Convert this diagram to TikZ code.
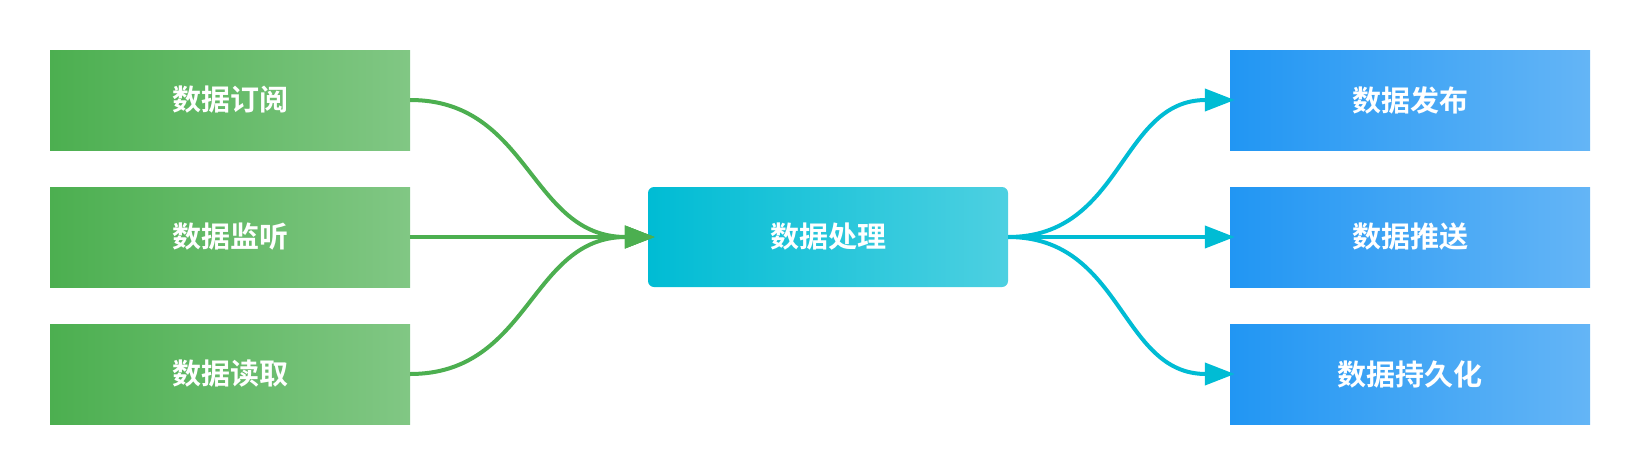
\documentclass[tikz,border=0pt]{standalone}
\usepackage{fontspec}
\newfontfamily\cjk{Noto Sans CJK SC}[BoldFont={Noto Sans CJK SC Bold}]
\usetikzlibrary{arrows.meta}
\definecolor{gA}{HTML}{4CAF50}
\definecolor{gB}{HTML}{81C784}
\definecolor{cA}{HTML}{00BCD4}
\definecolor{cB}{HTML}{4DD0E1}
\definecolor{bA}{HTML}{2196F3}
\definecolor{bB}{HTML}{64B5F6}
\tikzset{
  boxbase/.style={rectangle, minimum width=360pt, minimum height=100pt, inner sep=0pt,
    text=white, font=\cjk\bfseries\fontsize{29pt}{34pt}\selectfont},
  inbox/.style={boxbase, left color=gA, right color=gB},
  midbox/.style={boxbase, left color=cA, right color=cB, rounded corners=6pt},
  outbox/.style={boxbase, left color=bA, right color=bB},
  garrow/.style={draw=gA, line width=4pt, -{Triangle[length=30pt,width=22pt]}},
  carrow/.style={draw=cA, line width=4pt, -{Triangle[length=30pt,width=22pt]}},
}
\begin{document}
\begin{tikzpicture}[x=1pt,y=-1pt]
\useasboundingbox (0,0) rectangle (1639,474);
\node[inbox] (l1) at (230,100) {数据订阅};
\node[inbox] (l2) at (230,237) {数据监听};
\node[inbox] (l3) at (230,374) {数据读取};
\node[midbox] (c) at (828,237) {数据处理};
\node[outbox] (r1) at (1410,100) {数据发布};
\node[outbox] (r2) at (1410,237) {数据推送};
\node[outbox] (r3) at (1410,374) {数据持久化};
\coordinate (cin) at ([xshift=7pt]c.west);
\coordinate (r1in) at ([xshift=5pt]r1.west);
\coordinate (r2in) at ([xshift=5pt]r2.west);
\coordinate (r3in) at ([xshift=5pt]r3.west);
\draw[garrow] (l1.east) .. controls +(120,0) and +(-125,0) .. (cin);
\draw[garrow] (l2.east) -- (cin);
\draw[garrow] (l3.east) .. controls +(120,0) and +(-125,0) .. (cin);
\draw[carrow] (c.east) .. controls +(115,0) and +(-115,0) .. (r1in);
\draw[carrow] (c.east) -- (r2in);
\draw[carrow] (c.east) .. controls +(115,0) and +(-115,0) .. (r3in);
\end{tikzpicture}
\end{document}
